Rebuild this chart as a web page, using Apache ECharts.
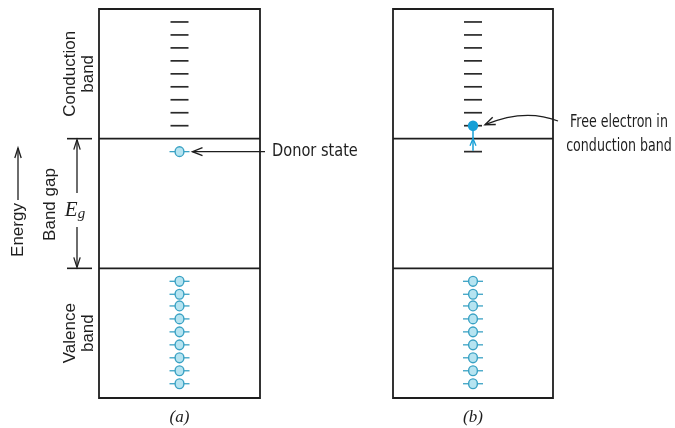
<!DOCTYPE html>
<html><head><meta charset="utf-8">
<script src="https://cdn.jsdelivr.net/npm/echarts@6/dist/echarts.min.js"></script>
<style>html,body{margin:0;padding:0;background:#fff}#c{width:675px;height:428px}</style>
</head><body><div id="c"></div>
<script>
// ---- data (energy units; valence band 0-10, gap 10-20, conduction band 20-30) ----
const panelLabels = ['(a)', '(b)'];
const energyRange = [0, 30];
const bandEdges = [10, 20];
const conductionLevels = [21, 22, 23, 24, 25, 26, 27, 28, 29];
const valenceStates = [1.1, 2.1, 3.1, 4.1, 5.1, 6.1, 7.1, 8.0, 9.0];
const donorLevel = 19;
const freeElectronLevel = 21;
const sideLabels = { conduction: 'Conduction\nband', gap: 'Band gap', valence: 'Valence\nband', energy: 'Energy' };
const noteA = 'Donor state';
const noteB = 'Free electron in\nconduction band';

// ---- styles ----
const INK = '#1e1e1e';
const RING = '#3aa2c4';
const RING_FILL = '#b6e4f1';
const ELECTRON = '#169fd6';
const SANS = 'Liberation Sans, Arial, sans-serif';
const NARROW = '"Liberation Sans Narrow", "DejaVu Sans Condensed", "Roboto Condensed", Roboto, sans-serif';
const SERIF = '"Liberation Serif", "DejaVu Serif", serif';
const LW = 1.8;

const chart = echarts.init(document.getElementById('c'), null, { renderer: 'canvas' });

const grids = [
  { left: 99, width: 161, top: 9, bottom: 30 },
  { left: 393, width: 160, top: 9, bottom: 30 }
].map(g => Object.assign(g, { show: true, borderColor: INK, borderWidth: LW, backgroundColor: 'transparent' }));

const xAxes = [0, 1].map(i => ({ type: 'value', gridIndex: i, min: 0, max: 1, show: false }));
const yAxes = [0, 1].map(i => ({ type: 'value', gridIndex: i, min: energyRange[0], max: energyRange[1], show: false }));

function edgeSeries(gi) {
  return {
    type: 'custom', xAxisIndex: gi, yAxisIndex: gi, silent: true,
    data: bandEdges.map(v => [0, v]),
    renderItem: (p, api) => {
      const a = api.coord([0, api.value(1)]), b = api.coord([1, api.value(1)]);
      return { type: 'line', shape: { x1: a[0], y1: a[1], x2: b[0], y2: b[1] }, style: { stroke: INK, lineWidth: LW } };
    }
  };
}
function levelSeries(gi, levels) {
  return {
    type: 'custom', xAxisIndex: gi, yAxisIndex: gi, silent: true,
    data: levels.map(v => [0.5, v]),
    renderItem: (p, api) => {
      const c = api.coord([api.value(0), api.value(1)]);
      return { type: 'line', shape: { x1: c[0] - 9, y1: c[1], x2: c[0] + 9, y2: c[1] }, style: { stroke: '#2a2a2a', lineWidth: 1.7 } };
    }
  };
}
function ringSeries(gi, states) {
  return {
    type: 'custom', xAxisIndex: gi, yAxisIndex: gi, silent: true, z: 3,
    data: states.map(v => [0.5, v]),
    renderItem: (p, api) => {
      const c = api.coord([api.value(0), api.value(1)]);
      return { type: 'group', children: [
        { type: 'line', shape: { x1: c[0] - 10, y1: c[1], x2: c[0] + 10, y2: c[1] }, style: { stroke: RING, lineWidth: 1.3 } },
        { type: 'ellipse', shape: { cx: c[0], cy: c[1], rx: 4.4, ry: 4.9 }, style: { fill: RING_FILL, stroke: RING, lineWidth: 1.4 } }
      ] };
    }
  };
}
function electronSeries(gi) {
  return {
    type: 'custom', xAxisIndex: gi, yAxisIndex: gi, silent: true, z: 4,
    data: [[0.5, freeElectronLevel, donorLevel]],
    renderItem: (p, api) => {
      const e = api.coord([api.value(0), api.value(1)]);
      const d = api.coord([api.value(0), api.value(2)]);
      const my = (e[1] + d[1]) / 2 + 2;
      return { type: 'group', children: [
        { type: 'line', shape: { x1: d[0] - 9, y1: d[1], x2: d[0] + 9, y2: d[1] }, style: { stroke: '#2a2a2a', lineWidth: 1.7 } },
        { type: 'line', shape: { x1: e[0], y1: e[1], x2: d[0], y2: d[1] - 1 }, style: { stroke: ELECTRON, lineWidth: 1.5 } },
        { type: 'polyline', shape: { points: [[e[0] - 3, my + 5], [e[0], my - 2], [e[0] + 3, my + 5]] }, style: { stroke: ELECTRON, fill: null, lineWidth: 1.3 } },
        { type: 'circle', shape: { cx: e[0], cy: e[1], r: 5.2 }, style: { fill: ELECTRON } }
      ] };
    }
  };
}

chart.setOption({
  animation: false,
  grid: grids, xAxis: xAxes, yAxis: yAxes,
  series: [
    edgeSeries(0), edgeSeries(1),
    levelSeries(0, conductionLevels), levelSeries(1, conductionLevels),
    ringSeries(0, [donorLevel]), ringSeries(0, valenceStates), ringSeries(1, valenceStates),
    electronSeries(1)
  ]
});

// ---- annotations positioned through the axes ----
const P = (gi, x, y) => chart.convertToPixel({ gridIndex: gi }, [x, y]);
const top0 = P(0, 0, bandEdges[1]), bot0 = P(0, 0, bandEdges[0]);
const donorPx = P(0, 0.5, donorLevel);
const elecPx = P(1, 0.5, freeElectronLevel);
const boxA = [P(0, 0, energyRange[1]), P(0, 1, energyRange[0])];
const boxB = [P(1, 0, energyRange[1]), P(1, 1, energyRange[0])];
const midY = (a, b) => (a + b) / 2;

function chevron(tx, ty, dx, dy, len, half, color, lw) {
  const n = Math.hypot(dx, dy); dx /= n; dy /= n;
  const bx = tx - dx * len, by = ty - dy * len;
  return { type: 'polyline', shape: { points: [[bx - dy * half, by + dx * half], [tx, ty], [bx + dy * half, by - dx * half]] }, style: { stroke: color, fill: null, lineWidth: lw } };
}
function vtext(x, y, text, font, size, lh) {
  return { type: 'text', x: x, y: y, rotation: Math.PI / 2,
    style: { text: text, font: size + 'px ' + font, fill: INK, textAlign: 'center', textVerticalAlign: 'middle', lineHeight: lh } };
}

const egX = 77;
const g = [];
// side labels
g.push(vtext(79, midY(boxA[0][1], top0[1]), sideLabels.conduction, SANS, 17, 18));
g.push(vtext(50, midY(top0[1], bot0[1]) + 1, sideLabels.gap, SANS, 17, 18));
g.push(vtext(79, midY(bot0[1], boxA[1][1]), sideLabels.valence, SANS, 17, 18));
g.push(vtext(18, 230, sideLabels.energy, SANS, 17, 18));
// energy arrow
g.push({ type: 'line', shape: { x1: 18, y1: 200, x2: 18, y2: 148 }, style: { stroke: INK, lineWidth: 1.3 } });
g.push(chevron(18, 148, 0, -1, 10, 3.2, INK, 1.3));
// Eg dimension
g.push({ type: 'line', shape: { x1: 67, y1: top0[1], x2: 92, y2: top0[1] }, style: { stroke: INK, lineWidth: 1.6 } });
g.push({ type: 'line', shape: { x1: 67, y1: bot0[1], x2: 92, y2: bot0[1] }, style: { stroke: INK, lineWidth: 1.6 } });
g.push({ type: 'line', shape: { x1: egX, y1: top0[1] + 1, x2: egX, y2: 193 }, style: { stroke: INK, lineWidth: 1.3 } });
g.push({ type: 'line', shape: { x1: egX, y1: 227, x2: egX, y2: bot0[1] - 1 }, style: { stroke: INK, lineWidth: 1.3 } });
g.push(chevron(egX, top0[1] + 1, 0, -1, 10, 3.2, INK, 1.3));
g.push(chevron(egX, bot0[1] - 1, 0, 1, 10, 3.2, INK, 1.3));
g.push({ type: 'text', x: egX - 2, y: 210, style: {
  text: '{e|E}{s|g}', textAlign: 'center', textVerticalAlign: 'middle',
  rich: { e: { font: 'italic 21px ' + SERIF, fill: INK }, s: { font: 'italic 15px ' + SERIF, fill: INK, padding: [9, 0, 0, 0] } } } });
// donor state note
g.push({ type: 'line', shape: { x1: donorPx[0] + 13, y1: donorPx[1], x2: boxA[1][0] + 5, y2: donorPx[1] }, style: { stroke: INK, lineWidth: 1.3 } });
g.push(chevron(donorPx[0] + 13, donorPx[1], -1, 0, 10, 4, INK, 1.4));
g.push({ type: 'text', x: boxA[1][0] + 12, y: donorPx[1], scaleX: 0.9, style: { text: noteA, font: '18px ' + NARROW, fill: INK, textVerticalAlign: 'middle' } });
// free electron note
const tip = [elecPx[0] + 12, elecPx[1] - 1], ctrl = [525, 108], start = [boxB[1][0] + 5, 121];
g.push({ type: 'bezierCurve', shape: { x1: start[0], y1: start[1], cpx1: ctrl[0], cpy1: ctrl[1], x2: tip[0], y2: tip[1] }, style: { stroke: INK, lineWidth: 1.3, fill: null } });
g.push(chevron(tip[0], tip[1], tip[0] - ctrl[0], tip[1] - ctrl[1], 10, 4, INK, 1.4));
g.push({ type: 'text', x: 619, y: 134, scaleX: 0.78, style: { text: noteB, font: '18px ' + NARROW, fill: INK, textAlign: 'center', textVerticalAlign: 'middle', lineHeight: 24 } });
// panel labels
panelLabels.forEach((t, i) => {
  const c = P(i, 0.5, energyRange[0]);
  g.push({ type: 'text', x: c[0], y: c[1] + 20, style: { text: t, font: 'italic 17px ' + SERIF, fill: INK, textAlign: 'center', textVerticalAlign: 'middle' } });
});

chart.setOption({ graphic: { elements: g } });
</script>
</body></html>
